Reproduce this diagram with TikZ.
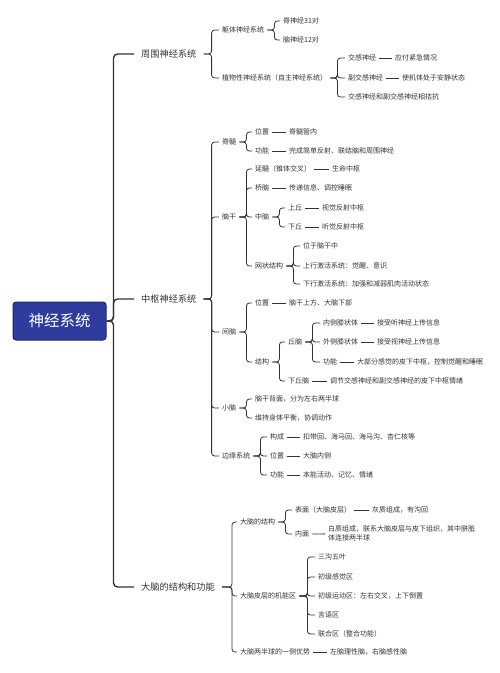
\documentclass[tikz,border=0pt]{standalone}
\usepackage{fontspec}
\usepackage{tikz}
\usetikzlibrary{positioning}
\newfontfamily\cjk{Noto Sans CJK SC}
\definecolor{ink}{HTML}{333333}
\definecolor{rootblue}{HTML}{2E3C9E}
\definecolor{rootedge}{HTML}{1E2666}

\begin{document}
\begin{tikzpicture}[x=1pt, y=-1pt,
    root/.style={rectangle, draw=rootedge, fill=rootblue, line width=1pt, rounded corners=3pt, minimum width=93pt, minimum height=38pt, text=white, font=\cjk\fontsize{15.5}{18}\selectfont},
    topic/.style={anchor=west, inner xsep=7pt, inner ysep=1pt, text=ink, font=\cjk\fontsize{9.2}{11}\selectfont},
    item/.style={anchor=west, inner xsep=3pt, inner ysep=1pt, text=ink, font=\cjk\fontsize{7}{9}\selectfont},
    link/.style={draw=ink, line width=0.8pt, rounded corners=3pt},
    trunk/.style={draw=ink, line width=1.4pt, rounded corners=4pt}]
  \useasboundingbox (0,0) rectangle (500,673);
  \node[root] (ns) at (59.5,321) {神经系统};
  % first level
  \node[topic] (pns) at (134,54) {周围神经系统};
  \node[topic] (cns) at (134,299) {中枢神经系统};
  \node[topic] (cbr) at (134,587) {大脑的结构和功能};
  \draw[trunk] (ns.east) -- ++(7,0) |- (pns.west);
  \draw[trunk] (ns.east) -- ++(7,0) |- (cns.west);
  \draw[trunk] (ns.east) -- ++(7,0) |- (cbr.west);

  % peripheral nervous system
  \node[item] (soma) at (219,30) {躯体神经系统};
  \node[item] (spn) at (280,21) {脊神经31对};
  \node[item] (crn) at (280,40) {脑神经12对};
  \node[item] (auto) at (219,78) {植物性神经系统（自主神经系统）};
  \node[item] (sym) at (345,58) {交感神经};
  \node[item] (symv) at (392,58) {应付紧急情况};
  \node[item] (para) at (345,78) {副交感神经};
  \node[item] (parav) at (399,78) {使机体处于安静状态};
  \node[item] (anta) at (345,97) {交感神经和副交感神经相拮抗};
  \draw[link] (pns.east) -- ++(8,0) |- (soma.west);
  \draw[link] (pns.east) -- ++(8,0) |- (auto.west);
  \draw[link] (soma.east) -- ++(7,0) |- (spn.west);
  \draw[link] (soma.east) -- ++(7,0) |- (crn.west);
  \draw[link] (auto.east) -- ++(7,0) |- (sym.west);
  \draw[link] (auto.east) -- ++(7,0) |- (para.west);
  \draw[link] (auto.east) -- ++(7,0) |- (anta.west);
  \draw[link] (sym) -- (symv);
  \draw[link] (para) -- (parav);

  % central nervous system
  \node[item] (spc) at (219,142) {脊髓};
  \node[item] (spcpos) at (252,132) {位置};
  \node[item] (spcposv) at (286,132) {脊髓管内};
  \node[item] (spcfn) at (252,151) {功能};
  \node[item] (spcfnv) at (286,151) {完成简单反射、联结脑和周围神经};
  \node[item] (bst) at (219,217) {脑干};
  \node[item] (med) at (252,169) {延髓（锥体交叉）};
  \node[item] (medv) at (329,169) {生命中枢};
  \node[item] (pon) at (252,188) {桥脑};
  \node[item] (ponv) at (286,188) {传递信息、调控睡眠};
  \node[item] (mid) at (252,217) {中脑};
  \node[item] (sup) at (285,208) {上丘};
  \node[item] (supv) at (319,208) {视觉反射中枢};
  \node[item] (inf) at (285,227) {下丘};
  \node[item] (infv) at (319,227) {听觉反射中枢};
  \node[item] (ret) at (252,266) {网状结构};
  \node[item] (ret1) at (300,246) {位于脑干中};
  \node[item] (ret2) at (300,266) {上行激活系统：觉醒、意识};
  \node[item] (ret3) at (300,284) {下行激活系统：加强和减弱肌肉活动状态};
  \node[item] (dien) at (219,332) {间脑};
  \node[item] (dpos) at (252,303) {位置};
  \node[item] (dposv) at (286,303) {脑干上方、大脑下部};
  \node[item] (dstr) at (252,362) {结构};
  \node[item] (thal) at (285,342) {丘脑};
  \node[item] (mgb) at (320,323) {内侧膝状体};
  \node[item] (mgbv) at (374,323) {接受听神经上传信息};
  \node[item] (lgb) at (320,342) {外侧膝状体};
  \node[item] (lgbv) at (374,342) {接受视神经上传信息};
  \node[item] (thfn) at (320,362) {功能};
  \node[item] (thfnv) at (354,362) {大部分感觉的皮下中枢，控制觉醒和睡眠};
  \node[item] (hyp) at (285,381) {下丘脑};
  \node[item] (hypv) at (327,381) {调节交感神经和副交感神经的皮下中枢情绪};
  \node[item] (cer) at (219,408) {小脑};
  \node[item] (cer1) at (252,399) {脑干背面，分为左右两半球};
  \node[item] (cer2) at (252,418) {维持身体平衡，协调动作};
  \node[item] (limb) at (219,456) {边缘系统};
  \node[item] (lcomp) at (267,437) {构成};
  \node[item] (lcompv) at (300,437) {扣带回、海马回、海马沟、杏仁核等};
  \node[item] (lpos) at (267,456) {位置};
  \node[item] (lposv) at (300,456) {大脑内侧};
  \node[item] (lfn) at (267,475) {功能};
  \node[item] (lfnv) at (300,475) {本能活动、记忆、情绪};
  \draw[link] (cns.east) -- ++(8,0) |- (spc.west);
  \draw[link] (cns.east) -- ++(8,0) |- (bst.west);
  \draw[link] (cns.east) -- ++(8,0) |- (dien.west);
  \draw[link] (cns.east) -- ++(8,0) |- (cer.west);
  \draw[link] (cns.east) -- ++(8,0) |- (limb.west);
  \draw[link] (spc.east) -- ++(7,0) |- (spcpos.west);
  \draw[link] (spc.east) -- ++(7,0) |- (spcfn.west);
  \draw[link] (spcpos) -- (spcposv);
  \draw[link] (spcfn) -- (spcfnv);
  \draw[link] (bst.east) -- ++(7,0) |- (med.west);
  \draw[link] (bst.east) -- ++(7,0) |- (pon.west);
  \draw[link] (bst.east) -- ++(7,0) |- (mid.west);
  \draw[link] (bst.east) -- ++(7,0) |- (ret.west);
  \draw[link] (med) -- (medv);
  \draw[link] (pon) -- (ponv);
  \draw[link] (mid.east) -- ++(7,0) |- (sup.west);
  \draw[link] (mid.east) -- ++(7,0) |- (inf.west);
  \draw[link] (sup) -- (supv);
  \draw[link] (inf) -- (infv);
  \draw[link] (ret.east) -- ++(7,0) |- (ret1.west);
  \draw[link] (ret.east) -- ++(7,0) |- (ret2.west);
  \draw[link] (ret.east) -- ++(7,0) |- (ret3.west);
  \draw[link] (dien.east) -- ++(7,0) |- (dpos.west);
  \draw[link] (dien.east) -- ++(7,0) |- (dstr.west);
  \draw[link] (dpos) -- (dposv);
  \draw[link] (dstr.east) -- ++(7,0) |- (thal.west);
  \draw[link] (dstr.east) -- ++(7,0) |- (hyp.west);
  \draw[link] (thal.east) -- ++(7,0) |- (mgb.west);
  \draw[link] (thal.east) -- ++(7,0) |- (lgb.west);
  \draw[link] (thal.east) -- ++(7,0) |- (thfn.west);
  \draw[link] (mgb) -- (mgbv);
  \draw[link] (lgb) -- (lgbv);
  \draw[link] (thfn) -- (thfnv);
  \draw[link] (hyp) -- (hypv);
  \draw[link] (cer.east) -- ++(7,0) |- (cer1.west);
  \draw[link] (cer.east) -- ++(7,0) |- (cer2.west);
  \draw[link] (limb.east) -- ++(7,0) |- (lcomp.west);
  \draw[link] (limb.east) -- ++(7,0) |- (lpos.west);
  \draw[link] (limb.east) -- ++(7,0) |- (lfn.west);
  \draw[link] (lcomp) -- (lcompv);
  \draw[link] (lpos) -- (lposv);
  \draw[link] (lfn) -- (lfnv);

  % cerebrum
  \node[item] (cstr) at (237,522) {大脑的结构};
  \node[item] (surf) at (292,510) {表面（大脑皮层）};
  \node[item] (surfv) at (369,510) {灰质组成，有沟回};
  \node[item] (inner) at (292,534) {内面};
  \node[item, align=left] (innerv) at (325,533.5) {白质组成，联系大脑皮层与皮下组织，其中胼胝\\体连接两半球};
  \node[item] (cfn) at (237,596) {大脑皮层的机能区};
  \node[item] (area1) at (315,557) {三沟五叶};
  \node[item] (area2) at (315,577) {初级感觉区};
  \node[item] (area3) at (315,596) {初级运动区：左右交叉，上下倒置};
  \node[item] (area4) at (315,615) {言语区};
  \node[item] (area5) at (315,634) {联合区（整合功能）};
  \node[item] (lat) at (237,652) {大脑两半球的一侧优势};
  \node[item] (latv) at (327,652) {左脑理性脑，右脑感性脑};
  \draw[link] (cbr.east) -- ++(10,0) |- (cstr.west);
  \draw[link] (cbr.east) -- ++(10,0) |- (cfn.west);
  \draw[link] (cbr.east) -- ++(10,0) |- (lat.west);
  \draw[link] (cstr.east) -- ++(7,0) |- (surf.west);
  \draw[link] (cstr.east) -- ++(7,0) |- (inner.west);
  \draw[link] (surf) -- (surfv);
  \draw[link] (inner) -- (innerv);
  \draw[link] (cfn.east) -- ++(8,0) |- (area1.west);
  \draw[link] (cfn.east) -- ++(8,0) |- (area2.west);
  \draw[link] (cfn.east) -- ++(8,0) |- (area3.west);
  \draw[link] (cfn.east) -- ++(8,0) |- (area4.west);
  \draw[link] (cfn.east) -- ++(8,0) |- (area5.west);
  \draw[link] (lat) -- (latv);
\end{tikzpicture}
\end{document}
